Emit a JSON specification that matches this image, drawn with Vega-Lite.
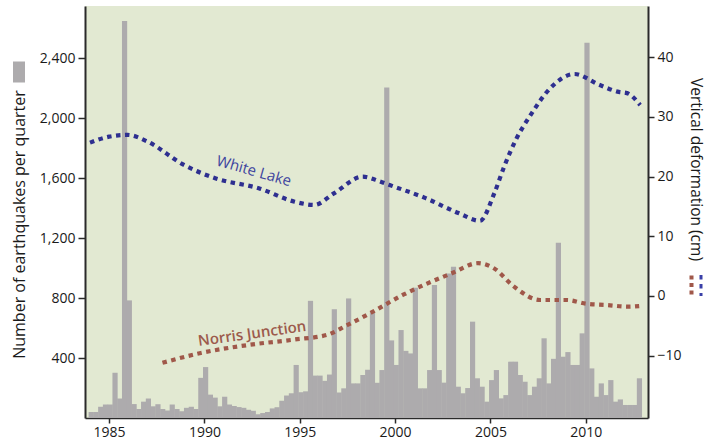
{
  "$schema": "https://vega.github.io/schema/vega-lite/v6.json",
  "width": 563,
  "height": 412,
  "autosize": {"type": "none"},
  "padding": {"left": 85, "top": 6, "right": 62, "bottom": 21},
  "background": "white",
  "config": {
    "view": {"fill": "#e2e9d2", "stroke": null},
    "font": "Open Sans",
    "axis": {"labelFont": "Open Sans", "labelFontSize": 14, "labelColor": "#1a1a1a", "titleFont": "Open Sans", "titleFontWeight": "normal", "titleColor": "#1a1a1a", "domainColor": "#2a2a2a", "tickColor": "#2a2a2a", "grid": false}
  },
  "datasets": {
    "quakes": [
      {"year": 1984.0, "quakes": 40}, {"year": 1984.25, "quakes": 40}, {"year": 1984.5, "quakes": 75}, {"year": 1984.75, "quakes": 90},
      {"year": 1985.0, "quakes": 90}, {"year": 1985.25, "quakes": 302}, {"year": 1985.5, "quakes": 130}, {"year": 1985.75, "quakes": 2650},
      {"year": 1986.0, "quakes": 785}, {"year": 1986.25, "quakes": 93}, {"year": 1986.5, "quakes": 60}, {"year": 1986.75, "quakes": 109},
      {"year": 1987.0, "quakes": 130}, {"year": 1987.25, "quakes": 78}, {"year": 1987.5, "quakes": 92}, {"year": 1987.75, "quakes": 60},
      {"year": 1988.0, "quakes": 50}, {"year": 1988.25, "quakes": 90}, {"year": 1988.5, "quakes": 60}, {"year": 1988.75, "quakes": 45},
      {"year": 1989.0, "quakes": 68}, {"year": 1989.25, "quakes": 75}, {"year": 1989.5, "quakes": 60}, {"year": 1989.75, "quakes": 268},
      {"year": 1990.0, "quakes": 340}, {"year": 1990.25, "quakes": 156}, {"year": 1990.5, "quakes": 136}, {"year": 1990.75, "quakes": 78},
      {"year": 1991.0, "quakes": 142}, {"year": 1991.25, "quakes": 90}, {"year": 1991.5, "quakes": 80}, {"year": 1991.75, "quakes": 73},
      {"year": 1992.0, "quakes": 68}, {"year": 1992.25, "quakes": 55}, {"year": 1992.5, "quakes": 48}, {"year": 1992.75, "quakes": 25},
      {"year": 1993.0, "quakes": 33}, {"year": 1993.25, "quakes": 40}, {"year": 1993.5, "quakes": 64}, {"year": 1993.75, "quakes": 72},
      {"year": 1994.0, "quakes": 115}, {"year": 1994.25, "quakes": 150}, {"year": 1994.5, "quakes": 165}, {"year": 1994.75, "quakes": 354},
      {"year": 1995.0, "quakes": 172}, {"year": 1995.25, "quakes": 178}, {"year": 1995.5, "quakes": 782}, {"year": 1995.75, "quakes": 283},
      {"year": 1996.0, "quakes": 283}, {"year": 1996.25, "quakes": 248}, {"year": 1996.5, "quakes": 290}, {"year": 1996.75, "quakes": 726},
      {"year": 1997.0, "quakes": 170}, {"year": 1997.25, "quakes": 198}, {"year": 1997.5, "quakes": 798}, {"year": 1997.75, "quakes": 231},
      {"year": 1998.0, "quakes": 231}, {"year": 1998.25, "quakes": 287}, {"year": 1998.5, "quakes": 322}, {"year": 1998.75, "quakes": 705},
      {"year": 1999.0, "quakes": 235}, {"year": 1999.25, "quakes": 320}, {"year": 1999.5, "quakes": 2206}, {"year": 1999.75, "quakes": 518},
      {"year": 2000.0, "quakes": 354}, {"year": 2000.25, "quakes": 587}, {"year": 2000.5, "quakes": 448}, {"year": 2000.75, "quakes": 431},
      {"year": 2001.0, "quakes": 870}, {"year": 2001.25, "quakes": 198}, {"year": 2001.5, "quakes": 198}, {"year": 2001.75, "quakes": 320},
      {"year": 2002.0, "quakes": 887}, {"year": 2002.25, "quakes": 320}, {"year": 2002.5, "quakes": 236}, {"year": 2002.75, "quakes": 965},
      {"year": 2003.0, "quakes": 1010}, {"year": 2003.25, "quakes": 209}, {"year": 2003.5, "quakes": 165}, {"year": 2003.75, "quakes": 200},
      {"year": 2004.0, "quakes": 643}, {"year": 2004.25, "quakes": 265}, {"year": 2004.5, "quakes": 209}, {"year": 2004.75, "quakes": 109},
      {"year": 2005.0, "quakes": 253}, {"year": 2005.25, "quakes": 320}, {"year": 2005.5, "quakes": 131}, {"year": 2005.75, "quakes": 153},
      {"year": 2006.0, "quakes": 376}, {"year": 2006.25, "quakes": 376}, {"year": 2006.5, "quakes": 287}, {"year": 2006.75, "quakes": 242},
      {"year": 2007.0, "quakes": 153}, {"year": 2007.25, "quakes": 209}, {"year": 2007.5, "quakes": 265}, {"year": 2007.75, "quakes": 532},
      {"year": 2008.0, "quakes": 231}, {"year": 2008.25, "quakes": 395}, {"year": 2008.5, "quakes": 1170}, {"year": 2008.75, "quakes": 409},
      {"year": 2009.0, "quakes": 440}, {"year": 2009.25, "quakes": 354}, {"year": 2009.5, "quakes": 354}, {"year": 2009.75, "quakes": 565},
      {"year": 2010.0, "quakes": 2504}, {"year": 2010.25, "quakes": 331}, {"year": 2010.5, "quakes": 142}, {"year": 2010.75, "quakes": 231},
      {"year": 2011.0, "quakes": 153}, {"year": 2011.25, "quakes": 253}, {"year": 2011.5, "quakes": 109}, {"year": 2011.75, "quakes": 124},
      {"year": 2012.0, "quakes": 87}, {"year": 2012.25, "quakes": 87}, {"year": 2012.5, "quakes": 87}, {"year": 2012.75, "quakes": 265}
    ],
    "deformation": [
      {"site": "White Lake", "year": 1984.0, "cm": 25.7},
      {"site": "White Lake", "year": 1985.0, "cm": 26.7},
      {"site": "White Lake", "year": 1985.97, "cm": 27.0},
      {"site": "White Lake", "year": 1987.0, "cm": 25.9},
      {"site": "White Lake", "year": 1988.9, "cm": 22.0},
      {"site": "White Lake", "year": 1990.6, "cm": 19.7},
      {"site": "White Lake", "year": 1992.85, "cm": 18.05},
      {"site": "White Lake", "year": 1994.73, "cm": 15.8},
      {"site": "White Lake", "year": 1995.76, "cm": 15.25},
      {"site": "White Lake", "year": 1996.79, "cm": 17.2},
      {"site": "White Lake", "year": 1998.3, "cm": 20.0},
      {"site": "White Lake", "year": 1999.2, "cm": 19.2},
      {"site": "White Lake", "year": 1999.71, "cm": 18.6},
      {"site": "White Lake", "year": 2001.6, "cm": 16.4},
      {"site": "White Lake", "year": 2003.32, "cm": 13.9},
      {"site": "White Lake", "year": 2004.45, "cm": 12.6},
      {"site": "White Lake", "year": 2005.2, "cm": 17.2},
      {"site": "White Lake", "year": 2005.72, "cm": 21.7},
      {"site": "White Lake", "year": 2006.32, "cm": 26.1},
      {"site": "White Lake", "year": 2007.1, "cm": 30.3},
      {"site": "White Lake", "year": 2008.13, "cm": 34.8},
      {"site": "White Lake", "year": 2009.41, "cm": 37.2},
      {"site": "White Lake", "year": 2010.7, "cm": 35.4},
      {"site": "White Lake", "year": 2011.73, "cm": 34.2},
      {"site": "White Lake", "year": 2012.16, "cm": 34.0},
      {"site": "White Lake", "year": 2012.85, "cm": 32.0},
      {"site": "Norris Junction", "year": 1987.8, "cm": -11.2},
      {"site": "Norris Junction", "year": 1989.75, "cm": -9.6},
      {"site": "Norris Junction", "year": 1992.33, "cm": -8.2},
      {"site": "Norris Junction", "year": 1994.73, "cm": -7.3},
      {"site": "Norris Junction", "year": 1996.45, "cm": -6.5},
      {"site": "Norris Junction", "year": 1997.48, "cm": -4.9},
      {"site": "Norris Junction", "year": 1998.68, "cm": -2.9},
      {"site": "Norris Junction", "year": 2000.4, "cm": 0.17},
      {"site": "Norris Junction", "year": 2002.97, "cm": 3.8},
      {"site": "Norris Junction", "year": 2004.35, "cm": 5.5},
      {"site": "Norris Junction", "year": 2005.2, "cm": 4.6},
      {"site": "Norris Junction", "year": 2006.24, "cm": 1.56},
      {"site": "Norris Junction", "year": 2007.6, "cm": -0.67},
      {"site": "Norris Junction", "year": 2008.99, "cm": -0.67},
      {"site": "Norris Junction", "year": 2010.02, "cm": -1.3},
      {"site": "Norris Junction", "year": 2011.05, "cm": -1.5},
      {"site": "Norris Junction", "year": 2012.25, "cm": -1.8},
      {"site": "Norris Junction", "year": 2012.8, "cm": -1.7}
    ],
    "labels": [
      {"site": "White Lake", "year": 1992.6, "cm": 20.95},
      {"site": "Norris Junction", "year": 1992.5, "cm": -6.3}
    ]
  },
  "encoding": {
    "x": {
      "field": "year", "type": "quantitative",
      "scale": {"domain": [1984, 2013], "nice": false, "zero": false},
      "axis": {"title": null, "values": [1985, 1990, 1995, 2000, 2005, 2010], "format": "d", "tickSize": 5, "labelPadding": 2, "domainWidth": 1.5, "tickWidth": 1.5}
    }
  },
  "layer": [
    {
      "data": {"name": "quakes"},
      "mark": {"type": "bar", "width": 5.2, "xOffset": 1.2, "clip": true, "strokeWidth": 0},
      "encoding": {
        "y": {
          "field": "quakes", "type": "quantitative",
          "scale": {"domain": [0, 2750], "nice": false, "zero": true},
          "axis": {"title": "Number of earthquakes per quarter", "orient": "left", "values": [400, 800, 1200, 1600, 2000, 2400], "format": ",d", "tickSize": 7, "labelPadding": 3, "domainWidth": 2, "tickWidth": 1.5, "titleFontSize": 16, "titleAngle": -90, "titleX": -66, "titleY": 218, "titleBaseline": "middle", "titleAlign": "center", "encode": {"ticks": {"update": {"x": {"value": 5}}}}}
        },
        "fill": {
          "datum": "Earthquakes",
          "scale": {"range": ["#adabad"]},
          "legend": {"orient": "none", "legendX": -67, "legendY": 65, "title": null, "symbolType": "M-6,-10.5H6V10.5H-6Z", "symbolSize": 4, "symbolStrokeWidth": 0, "labelExpr": "''", "labelFontSize": 1, "labelOffset": 0, "padding": 0}
        }
      }
    },
    {
      "layer": [
        {
          "data": {"name": "deformation"},
          "transform": [{"filter": "datum.site === 'Norris Junction'"}],
          "mark": {"type": "line", "interpolate": "monotone", "strokeWidth": 4.2, "strokeDash": [4.5, 4.5], "strokeCap": "butt"},
          "encoding": {
            "y": {
              "field": "cm", "type": "quantitative",
              "scale": {"domain": [-20.45, 48.6], "nice": false, "zero": false},
              "axis": {"title": "Vertical deformation (cm)", "orient": "right", "values": [-10, 0, 10, 20, 30, 40], "tickSize": 6, "labelPadding": 3, "domainWidth": 2, "tickWidth": 1.5, "titleFontSize": 15.5, "titleAngle": 90, "titleX": 47, "titleY": 163, "titleBaseline": "middle", "titleAlign": "center", "encode": {"ticks": {"update": {"x": {"value": -4}}}}}
            },
            "stroke": {
              "datum": "Norris Junction",
              "scale": {"range": ["#a0584a"]},
              "legend": {"orient": "none", "legendX": 603.5, "legendY": 277, "title": null, "symbolType": "M0,-10.5V10.5", "symbolSize": 4, "symbolStrokeWidth": 4, "symbolDash": [4, 3.5], "symbolFillColor": "transparent", "labelExpr": "''", "labelFontSize": 1, "labelOffset": 0, "padding": 0}
            }
          }
        },
        {
          "data": {"name": "deformation"},
          "transform": [{"filter": "datum.site === 'White Lake'"}],
          "mark": {"type": "line", "interpolate": "monotone", "strokeWidth": 4.2, "stroke": "#2e2f90", "strokeCap": "butt"},
          "encoding": {
            "y": {"field": "cm", "type": "quantitative"},
            "strokeDash": {
              "datum": "White Lake",
              "scale": {"range": [[4.5, 4.5]]},
              "legend": {"orient": "none", "legendX": 613.5, "legendY": 277, "title": null, "symbolType": "M0,-10.5V10.5", "symbolSize": 4, "symbolStrokeWidth": 3, "symbolStrokeColor": "#3a40a8", "symbolFillColor": "transparent", "labelExpr": "''", "labelFontSize": 1, "labelOffset": 0, "padding": 0, "encode": {"symbols": {"update": {"strokeDash": {"value": [2.5, 1.8]}, "stroke": {"value": "#3a40a8"}}}}}
            }
          }
        },
        {
          "data": {"name": "labels"},
          "transform": [{"filter": "datum.site === 'White Lake'"}],
          "mark": {"type": "text", "angle": 16, "fontSize": 15, "font": "Open Sans", "color": "#3d449e", "align": "center", "baseline": "middle"},
          "encoding": {
            "y": {"field": "cm", "type": "quantitative"},
            "text": {"field": "site"}
          }
        },
        {
          "data": {"name": "labels"},
          "transform": [{"filter": "datum.site === 'Norris Junction'"}],
          "mark": {"type": "text", "angle": -8, "fontSize": 15, "font": "Open Sans", "fontWeight": 600, "color": "#9c5a4c", "align": "center", "baseline": "middle"},
          "encoding": {
            "y": {"field": "cm", "type": "quantitative"},
            "text": {"field": "site"}
          }
        }
      ]
    }
  ],
  "resolve": {"scale": {"y": "independent"}}
}
